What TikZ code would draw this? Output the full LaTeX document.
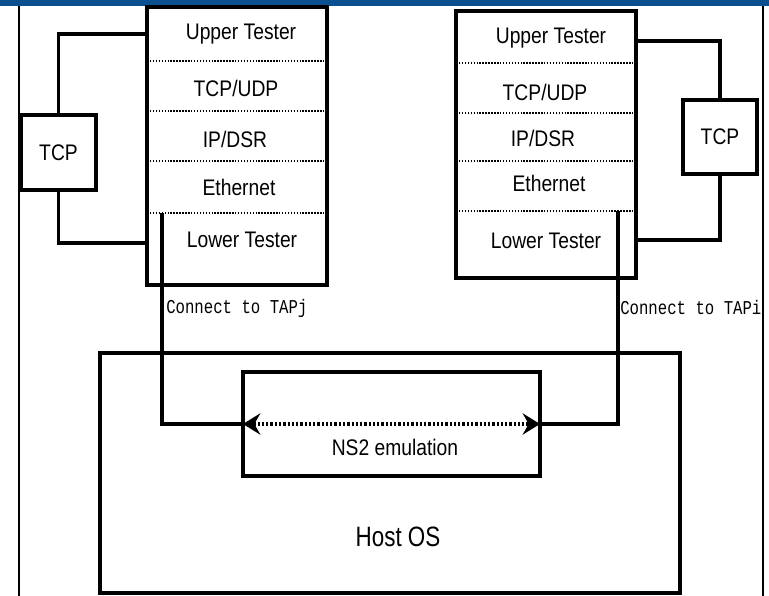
\documentclass[tikz,border=0pt]{standalone}
\usepackage{fontspec}
\setmainfont{Liberation Sans}
\newfontfamily\lblfont[FakeStretch=0.855]{Liberation Sans}
\newfontfamily\hostfont[FakeStretch=0.8]{Liberation Sans}
\newfontfamily\monofont[FakeStretch=0.8]{Liberation Mono}
\usetikzlibrary{arrows.meta}
\definecolor{bandblue}{RGB}{10,79,143}
\begin{document}
\begin{tikzpicture}[x=0.75pt,y=-0.75pt,
  box/.style={draw,line width=2.3pt,inner sep=0pt,outer sep=0pt},
  lay/.style={font=\lblfont\fontsize{16.9}{18}\selectfont,inner sep=0pt},
  sep/.style={line width=1.8pt,dash pattern=on 1.1pt off 1.1pt},
  wire/.style={line width=2.3pt},
  tap/.style={font=\monofont\fontsize{14.7}{16}\selectfont,anchor=west,inner sep=0pt},
  outer/.style={line width=1.7pt}]
\useasboundingbox (0,0) rectangle (769,596);
% top band
\fill[bandblue] (0,0) rectangle (769,6);
% outer vertical lines
\draw[outer] (19,6) -- (19,596);
\draw[outer] (763,6) -- (763,596);
% stacks
\node[box,minimum width=135pt,minimum height=208.5pt] (lstack) at (237,146) {};
\node[box,minimum width=135pt,minimum height=200.25pt] (rstack) at (546,144.5) {};
% separators
\foreach \yy in {61,111,161,213}
  \draw[sep] (lstack.west |- 0,\yy) -- (lstack.east |- 0,\yy);
\foreach \yy in {63,113,161,211}
  \draw[sep] (rstack.west |- 0,\yy) -- (rstack.east |- 0,\yy);
% layer labels left
\node[lay] (lut) at (241,34) {Upper Tester};
\node[lay] (ltu) at (236,88) {TCP/UDP};
\node[lay] (lip) at (235,139) {IP/DSR};
\node[lay] (leth) at (239,187) {Ethernet};
\node[lay] (llt) at (242,240) {Lower Tester};
% layer labels right
\node[lay] (rut) at (551,38) {Upper Tester};
\node[lay] (rtu) at (545,92) {TCP/UDP};
\node[lay] (rip) at (543,138) {IP/DSR};
\node[lay] (reth) at (549,183) {Ethernet};
\node[lay] (rlt) at (546,241) {Lower Tester};
% TCP boxes
\node[box,minimum width=56.25pt,minimum height=56.25pt,lay] (ltcp) at (58.5,152.5) {TCP};
\node[box,minimum width=55.5pt,minimum height=55.5pt,lay] (rtcp) at (720,137) {TCP};
% host and ns2
\node[box,minimum width=435pt,minimum height=180pt] (host) at (390,473) {};
\node[box,minimum width=222.75pt,minimum height=78pt] (ns2) at (391.5,424) {};
\node[lay] (ns2lbl) at (395,447) {NS2 emulation};
\node[inner sep=0pt,font=\hostfont\fontsize{21}{23}\selectfont] (hostlbl) at (398,537) {Host OS};
% tester wires
\draw[wire] (lstack.west |- 0,34) -| (ltcp.north);
\draw[wire] (ltcp.south) |- (lstack.west |- 0,243);
\draw[wire] (rstack.east |- 0,41) -| (rtcp.north);
\draw[wire] (rtcp.south) |- (rstack.east |- 0,240);
% tap links
\coordinate (ltap) at (162,213);
\coordinate (rtap) at (618,211);
\draw[wire] (ltap) |- (ns2.west);
\draw[wire] (rtap) |- (ns2.east);
\node[tap] (ltaplbl) at (166,308) {Connect to TAPj};
\node[tap] (rtaplbl) at (620,307) {Connect to TAPi};
% emulation arrow
\draw[line width=2.5pt,dash pattern=on 1.7pt off 1.5pt,
  {Stealth[length=13pt,width=16pt,inset=4.5pt]}-{Stealth[length=13pt,width=16pt,inset=4.5pt]}]
  (ns2.west) -- (ns2.east);
\end{tikzpicture}
\end{document}
